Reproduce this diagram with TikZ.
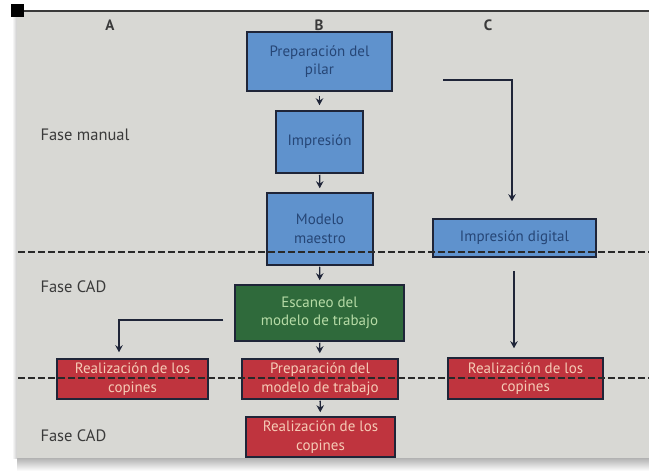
\documentclass[tikz,border=0pt]{standalone}
\usepackage{fontspec}
\setmainfont{PT Sans}
\usetikzlibrary{arrows.meta,calc}
\definecolor{bg}{HTML}{D8D8D4}
\definecolor{bfill}{HTML}{5F92CD}
\definecolor{btext}{HTML}{264676}
\definecolor{rfill}{HTML}{BF343E}
\definecolor{rtext}{HTML}{F5CBB6}
\definecolor{gfill}{HTML}{2F6A3B}
\definecolor{gtext}{HTML}{B6DBA6}
\definecolor{edge}{HTML}{1F2538}
\definecolor{ink}{HTML}{3A3A3A}
\tikzset{
  x=1pt,y=-1pt,
  box/.style={draw=edge,line width=1.5pt,inner sep=0pt,align=center,
    font=\fontsize{15}{18.5}\selectfont},
  bluebox/.style={box,fill=bfill,text=btext},
  redbox/.style={box,fill=rfill,text=rtext},
  greenbox/.style={box,fill=gfill,text=gtext},
  arr/.style={draw=edge,line width=1.4pt,-{Stealth[length=7pt,width=7.5pt]}},
  phase/.style={anchor=west,text=ink,font=\fontsize{16.5}{18}\selectfont},
  col/.style={text=ink,font=\bfseries\fontsize{15}{16}\selectfont},
  divider/.style={draw=ink!70!black,line width=2.2pt,dash pattern=on 6.5pt off 3.5pt}
}
\begin{document}
\begin{tikzpicture}
\useasboundingbox (0,0) rectangle (649,471);
% page and panel
\fill[white] (0,0) rectangle (649,471);
\shade[top color=gray!70,bottom color=white] (17,456) rectangle (649,471);
\shade[left color=white,right color=gray!40] (12,11) rectangle (17,458);
\fill[bg] (17,11) rectangle (649,458);
\fill[black] (11,4) rectangle (24,17);
\draw[ink,line width=1.2pt] (24,11) -- (649,11);
% column labels
\node[col] (colA) at (110,25) {A};
\node[col] (colB) at (319,25) {B};
\node[col] (colC) at (488,25) {C};
% phase labels
\node[phase] (fm) at (37,135) {Fase manual};
\node[phase] (fc1) at (37,287) {Fase CAD};
\node[phase] (fc2) at (37,436) {Fase CAD};
% boxes
\node[bluebox,minimum width=145pt,minimum height=59pt] (pilar) at (319.5,61.5) {Preparación del\\pilar};
\node[bluebox,minimum width=87pt,minimum height=62pt] (impr) at (319.5,142) {Impresión};
\node[bluebox,minimum width=106pt,minimum height=72pt] (maestro) at (320,229) {Modelo\\maestro};
\node[greenbox,minimum width=169pt,minimum height=56pt] (escaneo) at (319.5,313) {Escaneo del\\modelo de trabajo};
\node[redbox,minimum width=156pt,minimum height=40pt] (prepmod) at (320,379) {Preparación del\\modelo de trabajo};
\node[redbox,minimum width=149pt,minimum height=40pt] (realB) at (320.5,437) {Realización de los\\copines};
\node[redbox,minimum width=151pt,minimum height=40pt] (realA) at (132.5,379) {Realización de los\\copines};
\node[bluebox,minimum width=163pt,minimum height=38pt] (digital) at (514.5,238) {Impresión digital};
\node[redbox,minimum width=155pt,minimum height=41pt] (realC) at (525.5,378.5) {Realización de los\\copines};
% connectors column B
\draw[arr,shorten <=4pt,shorten >=5pt] (pilar) -- (impr);
\draw[arr,shorten <=1pt,shorten >=4pt] (impr) -- (maestro);
\draw[arr,shorten <=1pt,shorten >=4pt] (maestro) -- (escaneo);
\draw[arr,shorten <=1pt,shorten >=5pt] (escaneo) -- (prepmod);
\draw[arr,shorten <=1pt,shorten >=4pt] (prepmod) -- (realB);
% column C
\coordinate (cstart) at (443,80);
\draw[arr,shorten >=17pt] (cstart) -| ([xshift=-2.5pt]digital.north);
\draw[arr,shorten <=13pt,shorten >=9pt] ([xshift=-0.5pt]digital.south) -- ([xshift=-0.5pt]digital.south |- realC.north);
% column A
\draw[arr,shorten >=6pt] ([shift={(-11pt,-7pt)}]escaneo.west) -| ([xshift=-13.5pt]realA.north);
% phase dividers
\draw[divider] (18,252) -- (649,252);
\draw[divider] (18,378) -- (649,378);
\end{tikzpicture}
\end{document}
